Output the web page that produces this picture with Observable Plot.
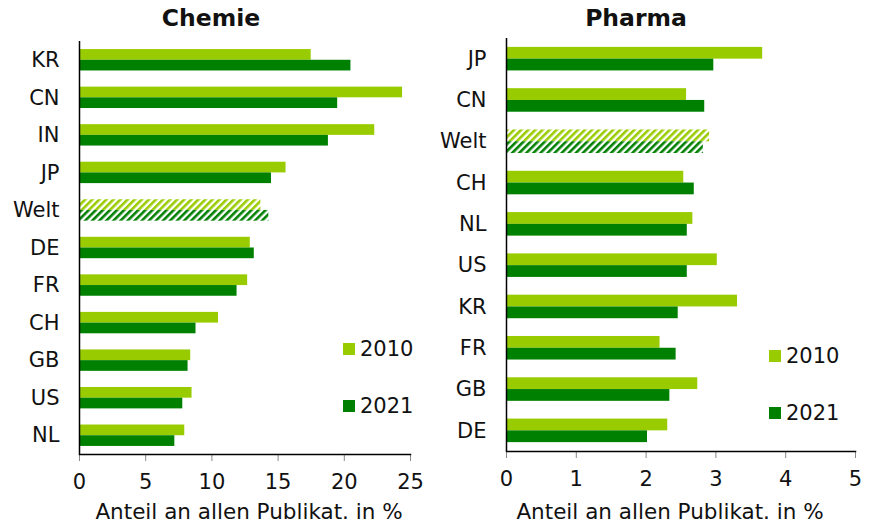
<!DOCTYPE html>
<html>
<head>
<meta charset="utf-8">
<script src="https://cdn.jsdelivr.net/npm/d3@7"></script>
<script src="https://cdn.jsdelivr.net/npm/@observablehq/plot@0.6"></script>
<style>
  html, body { margin: 0; padding: 0; background: #fff; }
  body { width: 871px; height: 528px; position: relative; overflow: hidden; font-family: "DejaVu Sans", Verdana, sans-serif; color: #111; }
  .panel { position: absolute; top: 0; }
  .title { position: absolute; font-weight: bold; font-size: 23.5px; transform: translateX(-50%); white-space: nowrap; }
  .xlabel { position: absolute; font-size: 21.5px; transform: translateX(-50%); white-space: nowrap; }
  .leg { position: absolute; font-size: 21px; display: flex; align-items: center; white-space: nowrap; }
  .leg span.sw { display: inline-block; width: 12px; height: 12px; margin-right: 5px; }
</style>
</head>
<body>
<div id="chemie" class="panel" style="left:0px"></div>
<div id="pharma" class="panel" style="left:430px"></div>
<script>
// ---- Data ----
const chemieCountries = ["KR", "CN", "IN", "JP", "Welt", "DE", "FR", "CH", "GB", "US", "NL"];
const chemie2010 = [17.5, 24.4, 22.3, 15.6, 13.7, 12.9, 12.7, 10.5, 8.4, 8.5, 7.95];
const chemie2021 = [20.5, 19.5, 18.8, 14.5, 14.3, 13.2, 11.9, 8.8, 8.2, 7.8, 7.2];

const pharmaCountries = ["JP", "CN", "Welt", "CH", "NL", "US", "KR", "FR", "GB", "DE"];
const pharma2010 = [3.67, 2.58, 2.91, 2.54, 2.67, 3.02, 3.31, 2.20, 2.74, 2.31];
const pharma2021 = [2.97, 2.84, 2.82, 2.69, 2.59, 2.59, 2.46, 2.43, 2.34, 2.02];

const years = ["2010", "2021"];
const chemieTicks = [0, 5, 10, 15, 20, 25];
const pharmaTicks = [0, 1, 2, 3, 4, 5];
const titles = ["Chemie", "Pharma"];
const xLabel = "Anteil an allen Publikat. in %";

const C2010 = "#99cc00";
const C2021 = "#008000";

function panel(el, opts) {
  const {countries, v2010, v2021, domain, ticks, width, height, mt, mb, ml, mr, title, titleX, labelX, legX, legY1, legY2} = opts;
  const rows = countries.map((c, i) => ({country: c, y2010: v2010[i], y2021: v2021[i]}));
  const pi = 0.43, po = 0.215;
  const n = countries.length;
  const step = (height - mt - mb) / (n - pi + 2 * po);
  const bw = step * (1 - pi);
  const normal = rows.filter(d => d.country !== "Welt");
  const welt = rows.filter(d => d.country === "Welt");
  const id = el.id;
  const plot = Plot.plot({
    width, height,
    marginTop: mt, marginBottom: mb, marginLeft: ml, marginRight: mr,
    style: {fontFamily: "DejaVu Sans, Verdana, sans-serif", fontSize: "21px", color: "#111", background: "white", overflow: "visible"},
    x: {domain, ticks, tickSize: 0, label: null},
    y: {domain: countries, paddingInner: pi, paddingOuter: po, round: false, label: null},
    marks: [
      Plot.barX(normal, {y: "country", x: "y2010", fill: C2010, insetBottom: bw / 2, insetTop: 0}),
      Plot.barX(normal, {y: "country", x: "y2021", fill: C2021, insetTop: bw / 2, insetBottom: 0}),
      Plot.barX(welt, {y: "country", x: "y2010", fill: `url(#${id}-h2010)`, insetBottom: bw / 2, insetTop: 0}),
      Plot.barX(welt, {y: "country", x: "y2021", fill: `url(#${id}-h2021)`, insetTop: bw / 2, insetBottom: 0}),
      Plot.axisY({tickSize: 0, tickPadding: 20, fontSize: 21, label: null}),
      Plot.axisX({ticks, tickSize: 7, stroke: "#888", tickPadding: 13, fontSize: 21, label: null, tickFormat: d3.format("d")}),
      Plot.ruleX([0], {stroke: "#000", strokeWidth: 1.5}),
      Plot.frame({anchor: "bottom", stroke: "#000", strokeWidth: 1.5})
    ]
  });
  // hatch patterns
  const svg = d3.select(plot.tagName.toLowerCase() === "svg" ? plot : plot.querySelector("svg"));
  const defs = svg.insert("defs", ":first-child");
  [["h2010", C2010], ["h2021", C2021]].forEach(([k, col]) => {
    const p = defs.append("pattern")
      .attr("id", `${id}-${k}`)
      .attr("patternUnits", "userSpaceOnUse")
      .attr("width", 5).attr("height", 5)
      .attr("patternTransform", "rotate(45)");
    p.append("rect").attr("width", 5).attr("height", 5).attr("fill", "white");
    p.append("rect").attr("width", 2.6).attr("height", 5).attr("fill", col);
  });
  el.appendChild(plot);
  // title
  const t = document.createElement("div");
  t.className = "title"; t.textContent = title;
  t.style.left = titleX + "px"; t.style.top = "4px";
  el.appendChild(t);
  // x label
  const xl = document.createElement("div");
  xl.className = "xlabel"; xl.textContent = xLabel;
  xl.style.left = labelX + "px"; xl.style.top = "499px";
  el.appendChild(xl);
  // legend
  [[years[0], C2010, legY1], [years[1], C2021, legY2]].forEach(([yr, col, yy]) => {
    const lg = document.createElement("div");
    lg.className = "leg";
    lg.style.left = legX + "px"; lg.style.top = (yy - 13) + "px"; lg.style.height = "26px";
    const sw = document.createElement("span"); sw.className = "sw"; sw.style.background = col;
    const tx = document.createElement("span"); tx.textContent = yr;
    lg.appendChild(sw); lg.appendChild(tx);
    el.appendChild(lg);
  });
}

panel(document.getElementById("chemie"), {
  countries: chemieCountries, v2010: chemie2010, v2021: chemie2021,
  domain: [0, 25], ticks: chemieTicks, width: 430, height: 528,
  mt: 41, mb: 74, ml: 79, mr: 20, title: titles[0], titleX: 211, labelX: 249,
  legX: 343, legY1: 349, legY2: 406
});
panel(document.getElementById("pharma"), {
  countries: pharmaCountries, v2010: pharma2010, v2021: pharma2021,
  domain: [0, 5], ticks: pharmaTicks, width: 441, height: 528,
  mt: 38, mb: 77, ml: 76, mr: 16, title: titles[1], titleX: 206, labelX: 240,
  legX: 339, legY1: 356, legY2: 413
});
</script>
</body>
</html>
